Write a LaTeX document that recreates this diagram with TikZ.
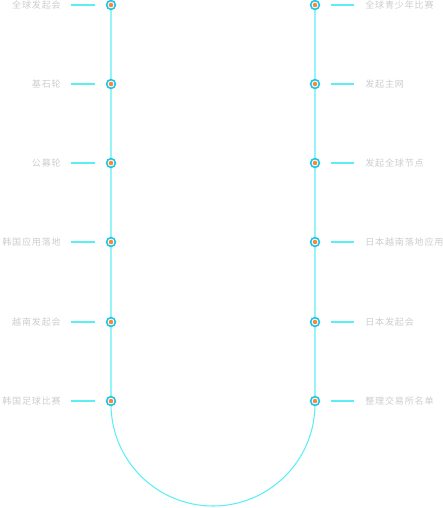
\documentclass[tikz,border=0pt]{standalone}
\usepackage{fontspec}
\newfontfamily\cjk[LetterSpace=9]{Noto Sans CJK SC}
\definecolor{linecyan}{HTML}{5CEEF5}
\definecolor{ringcyan}{HTML}{22C4E6}
\definecolor{dotorange}{HTML}{F5893A}
\definecolor{labelgray}{HTML}{CDCDCD}
\begin{document}
\begin{tikzpicture}[x=0.75pt,y=-0.75pt,
  track/.style={draw=linecyan,line width=0.8pt},
  tick/.style={draw=linecyan,line width=0.8pt},
  lbl/.style={font=\cjk\fontsize{6.8pt}{7.5pt}\selectfont,text=labelgray,inner sep=0pt},
  dotring/.style={circle,draw=ringcyan,line width=1.2pt,fill=white,minimum size=6.6pt,inner sep=0pt},
]
\useasboundingbox (0,0) rectangle (443,508);
\coordinate (Ltop) at (111,5);
\coordinate (Rtop) at (315,5);
\coordinate (Lbot) at (111,404);
\coordinate (Rbot) at (315,404);
\draw[track] (Ltop) -- (Lbot) arc[start angle=180,end angle=360,x radius=102,y radius=-102] -- (Rtop);
% left
\foreach \y/\t/\n in {5/全球发起会/l1,84/基石轮/l2,163/公募轮/l3,242/韩国应用落地/l4,322/越南发起会/l5,401/韩国足球比赛/l6}{
  \node[dotring] (\n d) at (111,\y) {};
  \fill[dotorange] (\n d) circle (1.7pt);
  \coordinate (\n a) at (71,\y);
  \coordinate (\n b) at (95,\y);
  \draw[tick] (\n a) -- (\n b);
  \node[lbl,anchor=east] (\n) at (61,\y) {\t};
}
% right
\foreach \y/\t/\n in {5/全球青少年比赛/r1,84/发起主网/r2,163/发起全球节点/r3,242/日本越南落地应用/r4,322/日本发起会/r5,401/整理交易所名单/r6}{
  \node[dotring] (\n d) at (315,\y) {};
  \fill[dotorange] (\n d) circle (1.7pt);
  \coordinate (\n a) at (331,\y);
  \coordinate (\n b) at (354,\y);
  \draw[tick] (\n a) -- (\n b);
  \node[lbl,anchor=west] (\n) at (365,\y) {\t};
}
\end{tikzpicture}
\end{document}
